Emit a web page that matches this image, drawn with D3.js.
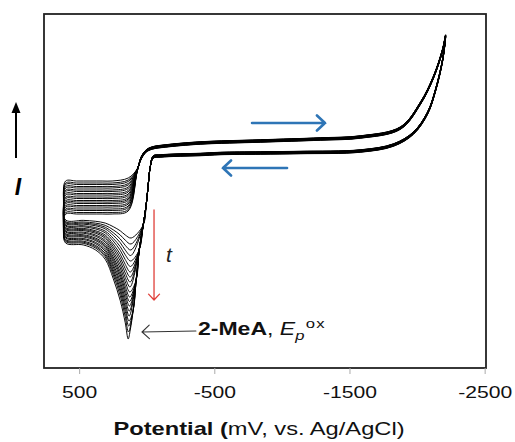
<!DOCTYPE html>
<meta charset="utf-8">
<title>2-MeA repeated scans</title>
<style>

body {
  margin: 0;
  background: #fff;
}

svg {
  display: block;
  font-family: "Liberation Sans", Arial, sans-serif;
}

.cycle {
  fill: none;
  stroke: #000;
  stroke-width: 0.95px;
  stroke-linejoin: round;
}

.frame {
  fill: none;
  stroke: #222;
  stroke-width: 1.8px;
}

.tick line {
  stroke: #aaa;
}

.blue {
  fill: none;
  stroke: #2e75b6;
  stroke-width: 2.6px;
}

.red {
  fill: none;
  stroke: #e0403a;
  stroke-width: 1.3px;
}

.pointer {
  fill: none;
  stroke: #333;
  stroke-width: 1.1px;
}

</style>
<body>
<script src="https://cdn.jsdelivr.net/npm/d3@7"></script>
<script>

var width = 515,
    height = 442,
    stretch = 1.28;   // the figure's lettering is drawn wider than normal

// potential in mV, current in arbitrary units (cathodic up)
var xTicks = [500, -500, -1500, -2500];

// one value per scan, first scan to last
var upperLevel    = [2.0, 1.6, 1.3, 0.9, 0.6, 0.2, -0.1, -0.5, -0.8, -1.2, -1.5, -1.9, -2.2, -2.5, -2.9, -3.2, -3.6, -3.9, -4.3, -4.6];
var lowerLevel    = [-5.8, -6.1, -6.3, -6.5, -6.8, -7.0, -7.3, -7.5, -7.7, -8.0, -8.2, -8.5, -8.7, -8.9, -9.2, -9.4, -9.7, -9.9, -10.1, -10.4];
var peakCurrent   = [-9.4, -10.6, -11.8, -12.9, -14.0, -15.1, -16.2, -17.2, -18.2, -19.2, -20.2, -21.2, -22.1, -23.0, -24.0, -25.0, -26.0, -27.0, -28.2, -29.6];
var peakPotential = [115, 116, 117, 118, 119, 120, 121, 122, 123, 124, 125, 126, 127, 128, 129, 130, 131, 133, 135, 137];
var loopShift     = [0.25, 0.22, 0.2, 0.17, 0.15, 0.12, 0.1, 0.07, 0.05, 0.02, 0, -0.02, -0.05, -0.07, -0.1, -0.12, -0.15, -0.18, -0.21, -0.25];

// upper branch at the positive end, flat before it climbs
var upperBranch = [600, 520, 420, 330, 256];

// part every scan shares: climb, forward sweep, vertex, return sweep
var forwardScan = [[70, 4.2], [41, 6.6], [4, 8.0], [-41, 8.6], [-137, 9.0], [-396, 9.6], [-841, 10.0],
                   [-1285, 10.4], [-1581, 10.8], [-1878, 12.6], [-2026, 17.6], [-2122, 22.8], [-2189, 28.2], [-2211, 31.0]];
var reverseScan = [[-2189, 26.2], [-2137, 20.2], [-2078, 15.6], [-1974, 11.6], [-1826, 9.2], [-1581, 8.0], [-1137, 7.7],
                   [-841, 7.6], [-544, 7.5], [-396, 7.3], [-248, 7.2], [-100, 7.0], [-48, 6.8]];
// fall into the oxidation peak (right flank)
var peakFlank   = [[-26, 4.8], [-11, 1.2], [4, -2.8], [26, -6.8], [56, -11.8], [78, -17.8], [100, -23.8], [122, -27.8]];
// left flank of the peak: potential and share of the peak still left
var peakTail    = [[159, 0.83], [196, 0.6], [248, 0.37], [307, 0.17], [381, 0.07], [470, 0.02], [600, 0]];
var turnPotential = 615;

var x = d3.scaleLinear()
    .domain([760, -2510])
    .range([44, 486]);

var y = d3.scaleLinear()
    .domain([-35.4, 35.4])
    .range([368, 14]);

var svg = d3.select("body").append("svg")
    .attr("width", width)
    .attr("height", height);

var line = d3.line()
    .x(function(d) { return x(d[0]); })
    .y(function(d) { return y(d[1]); })
    .curve(d3.curveCatmullRomClosed.alpha(0.5));

var scans = peakCurrent.map(function(p, i) {
  var u = upperLevel[i], l = lowerLevel[i], s = loopShift[i], pts = [];
  upperBranch.forEach(function(e) { pts.push([e, u]); });
  pts.push([137, u + 0.6]);
  forwardScan.concat(reverseScan).forEach(function(d) { pts.push([d[0], d[1] + s]); });
  peakFlank.forEach(function(d) { if (d[1] > p + 1.5) pts.push([d[0], d[1]]); });
  pts.push([peakPotential[i], p]);
  peakTail.forEach(function(d) { pts.push([d[0], l + d[1] * (p - l)]); });
  pts.push([turnPotential, (u + l) / 2]);
  return pts;
});

svg.append("g").selectAll("path")
    .data(scans)
  .enter().append("path")
    .attr("class", "cycle")
    .attr("d", line);

svg.append("rect")
    .attr("class", "frame")
    .attr("x", x.range()[0])
    .attr("y", y.range()[1])
    .attr("width", x.range()[1] - x.range()[0])
    .attr("height", y.range()[0] - y.range()[1]);

var xAxis = svg.append("g")
    .attr("transform", "translate(0," + y.range()[0] + ")")
    .call(d3.axisBottom(x).tickValues(xTicks).tickFormat(function(d) { return String(d); }).tickSize(6).tickSizeOuter(0));

xAxis.select(".domain").remove();
xAxis.selectAll("text")
    .attr("y", 30)
    .attr("dy", null)
    .attr("fill", "#111")
    .style("font-size", "16.5px")
    .attr("transform", "scale(" + stretch + ",1)");

var title = svg.append("text")
    .attr("text-anchor", "middle")
    .attr("transform", "translate(259,435) scale(" + stretch + ",1)")
    .style("font-size", "18.5px")
    .attr("fill", "#111");
title.append("tspan").style("font-weight", "bold").text("Potential (");
title.append("tspan").text("mV, vs. Ag/AgCl)");

// current axis: arrow and italic I
svg.append("line")
    .attr("x1", 16).attr("x2", 16)
    .attr("y1", 158).attr("y2", 111)
    .attr("stroke", "#000")
    .attr("stroke-width", 2);
svg.append("path")
    .attr("d", "M11.5,113L16,102L20.5,113Z")
    .attr("fill", "#000");
svg.append("text")
    .attr("x", 18)
    .attr("y", 195)
    .attr("text-anchor", "middle")
    .style("font-size", "23px")
    .style("font-weight", "bold")
    .style("font-style", "italic")
    .text("I");

function arrow(cls, e1, i1, e2, i2, head) {
  var x1 = x(e1), y1 = y(i1), x2 = x(e2), y2 = y(i2),
      a = Math.atan2(y2 - y1, x2 - x1), w = 0.75;
  svg.append("path")
      .attr("class", cls)
      .attr("stroke-linecap", "round")
      .attr("d", "M" + x1 + "," + y1 + "L" + x2 + "," + y2 +
        "M" + (x2 - head * Math.cos(a - w)) + "," + (y2 - head * Math.sin(a - w)) +
        "L" + x2 + "," + y2 +
        "L" + (x2 - head * Math.cos(a + w)) + "," + (y2 - head * Math.sin(a + w)));
}

// scan direction
arrow("blue", -779, 13.6, -1319, 13.6, 11);
arrow("blue", -1038, 4.6, -564, 4.6, 11);

// peak growth with time
arrow("red", -54, -3.8, -54, -21.8, 8);
svg.append("text")
    .attr("x", x(-143))
    .attr("y", y(-14.2))
    .style("font-size", "21px")
    .style("font-style", "italic")
    .attr("fill", "#222")
    .text("t");

// peak label
arrow("pointer", -364, -28.0, 35, -28.2, 10);
var label = svg.append("text")
    .attr("transform", "translate(" + x(-379) + "," + y(-28.8) + ") scale(" + stretch + ",1)")
    .style("font-size", "18px")
    .attr("fill", "#111");
label.append("tspan").style("font-weight", "bold").text("2-MeA");
label.append("tspan").text(", ");
label.append("tspan").style("font-style", "italic").text("E");
label.append("tspan").style("font-style", "italic").style("font-size", "13px").attr("dy", 5).text("p");
label.append("tspan").style("font-size", "13px").attr("dy", -12).attr("dx", 1).style("letter-spacing", "1px").text("ox");

</script>
</body>
